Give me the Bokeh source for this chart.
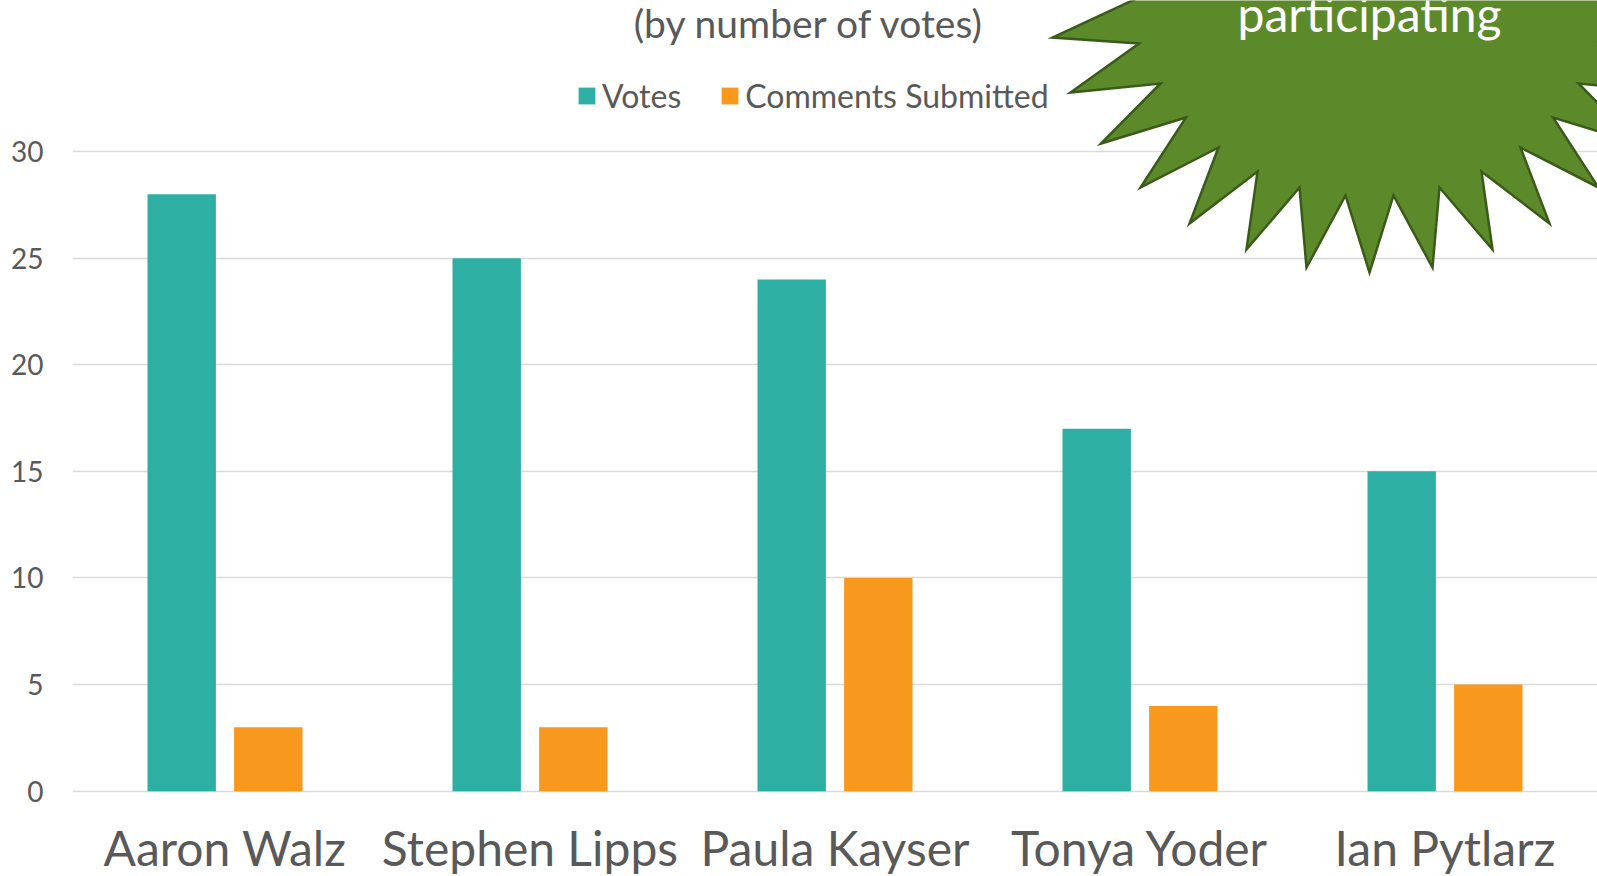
from bokeh.plotting import figure
from bokeh.models import (FactorRange, Range1d, FixedTicker, Legend, LegendItem,
                          Label, ColumnDataSource)
from bokeh.transform import dodge
from bokeh.embed import file_html
from bokeh.resources import INLINE
from bokeh.core.properties import value

# ---------------- data ----------------
names = ["Aaron Walz", "Stephen Lipps", "Paula Kayser", "Tonya Yoder", "Ian Pytlarz"]
votes = [28, 25, 24, 17, 15]
comments = [3, 3, 10, 4, 5]
y_ticks = [0, 5, 10, 15, 20, 25, 30]
series_names = ["Votes", "Comments Submitted"]
subtitle = "(by number of votes)"
burst_text = "participating"

# ---------------- style ----------------
TEAL = "#2EAFA4"
ORANGE = "#F8991E"
GRAY_TXT = "#595959"
GRID = "#d9d9d9"
STAR_FILL = "#5C8A2A"
STAR_LINE = "#3A5A1A"
FONT = "Lato"

W, H = 1597, 876
LEFT = 72                      # frame left inside figure
UNIT_X = (W - LEFT) / len(names)
ZERO_PY = 790.7                # y of value 0 (figure px)
PX_PER_UNIT = 21.323
BASE_FIX = 16                  # empirical baseline correction (px)

y_lo = (ZERO_PY - H) / PX_PER_UNIT
y_hi = ZERO_PY / PX_PER_UNIT


def X(px):      # pixel -> x data
    return (px - LEFT) / UNIT_X


def Y(py):      # pixel -> y data
    return (ZERO_PY - py) / PX_PER_UNIT


p = figure(x_range=FactorRange(*names, range_padding=0),
           y_range=Range1d(y_lo, y_hi),
           width=W, height=H, output_backend="svg", toolbar_location=None,
           x_axis_location=None, min_border_left=LEFT, min_border_right=0,
           min_border_top=0, min_border_bottom=0)
p.outline_line_color = None
p.background_fill_color = "white"
p.border_fill_color = "white"

ticker = FixedTicker(ticks=y_ticks)
p.yaxis.ticker = ticker
p.yaxis.axis_line_color = None
p.yaxis.major_tick_line_color = None
p.yaxis.minor_tick_line_color = None
p.yaxis.major_tick_out = 0
p.yaxis.major_label_standoff = 29
p.yaxis.major_label_text_font = FONT
p.yaxis.major_label_text_font_size = "28px"
p.yaxis.major_label_text_color = GRAY_TXT
p.ygrid.ticker = ticker
p.ygrid.grid_line_color = GRID
p.ygrid.grid_line_width = 1.6
p.xgrid.visible = False

src = ColumnDataSource(dict(names=names, votes=votes, comments=comments))
bw = 68.4 / UNIT_X
off = 43.3 / UNIT_X
r1 = p.vbar(x=dodge("names", -off, range=p.x_range), top="votes", width=bw,
            source=src, fill_color=TEAL, line_color=None)
r2 = p.vbar(x=dodge("names", off, range=p.x_range), top="comments", width=bw,
            source=src, fill_color=ORANGE, line_color=None)

# category labels
p.text(x="names", y=Y(863 - BASE_FIX), text="names", source=src,
       text_font=value(FONT), text_font_size="48px", text_color=GRAY_TXT,
       text_align="center", text_baseline="alphabetic")

# starburst decoration (pixel outline, left half, mirrored)
CX = 1369
half = [(CX, -60), (1175, -20), (1052, 37), (1138.5, 43), (1070, 92), (1160, 83),
        (1100.5, 143), (1185.5, 117), (1140, 187), (1218, 147), (1189, 223),
        (1257, 171), (1246, 249), (1299, 187), (1306, 267), (1345, 195), (CX, 272)]
outline = half + [(2 * CX - x, y) for (x, y) in reversed(half[1:-1])]
p.patch([X(a) for a, _ in outline], [Y(b) for _, b in outline],
        fill_color=STAR_FILL, line_color=STAR_LINE, line_width=2.5,
        line_join="miter")

p.add_layout(Label(x=X(CX), y=Y(29 - BASE_FIX), text=burst_text, text_font=FONT,
                   text_font_size="48px", text_color="white",
                   text_align="center", text_baseline="alphabetic"))
p.add_layout(Label(x=X(809), y=Y(38 - BASE_FIX), text=subtitle, text_font=FONT,
                   text_font_size="39px", text_color=GRAY_TXT,
                   text_align="center", text_baseline="alphabetic"))

legend = Legend(items=[LegendItem(label=series_names[0], renderers=[r1]),
                       LegendItem(label=series_names[1], renderers=[r2])],
                orientation="horizontal", location=(576 - LEFT, H - 115),
                glyph_width=21, glyph_height=21, label_standoff=5, spacing=38,
                padding=0, margin=0, border_line_color=None,
                background_fill_alpha=0, label_text_font=FONT,
                label_text_font_size="32px", label_text_color=GRAY_TXT)
p.add_layout(legend)

open("out.html", "w").write(file_html(p, INLINE))
